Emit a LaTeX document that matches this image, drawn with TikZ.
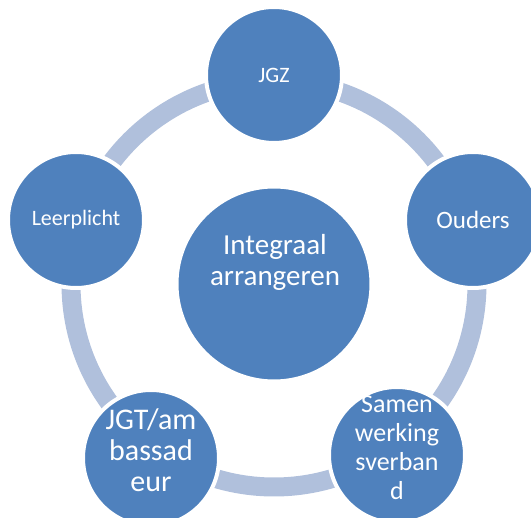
\documentclass[tikz,border=0pt]{standalone}
\usepackage{fontspec}
\setmainfont{Carlito}
\definecolor{bolblauw}{RGB}{79,129,189}
\definecolor{ringblauw}{RGB}{176,192,220}

\begin{document}
\begin{tikzpicture}[x=1pt, y=-1pt, line join=round,
  bol/.style={circle, fill=bolblauw, draw=white, line width=4pt, minimum size=136pt, inner sep=0pt, text=white},
  tekst/.style={text=white, align=center, inner sep=0pt, anchor=base}]
\useasboundingbox (0,0) rectangle (531,518);
\coordinate (M) at (274,284);
\draw[ringblauw, line width=19pt] (M) circle (203pt);
\node[bol, minimum size=195pt] (hub) at (M) {};
\node[bol, font=\fontsize{22}{26}\selectfont] (jgz) at (274,75) {JGZ};
\node[bol, font=\fontsize{25}{29}\selectfont] (oud) at (473,220) {Ouders};
\node[bol] (sw) at (397,455) {};
\node[bol] (jgt) at (151,458) {};
\node[bol, font=\fontsize{22}{26}\selectfont] (lp) at (76,220) {Leerplicht};
% base anchor = baseline of the last line
\node[tekst, font=\fontsize{29}{31}\selectfont] (hubT) at (275,286) {Integraal\\arrangeren};
\node[tekst, font=\fontsize{26}{29}\selectfont] (swT) at (397,500) {Samen\\werking\\sverban\\d};
\node[tekst, font=\fontsize{30}{31}\selectfont] (jgtT) at (151,492) {JGT/am\\bassad\\eur};
\end{tikzpicture}
\end{document}
